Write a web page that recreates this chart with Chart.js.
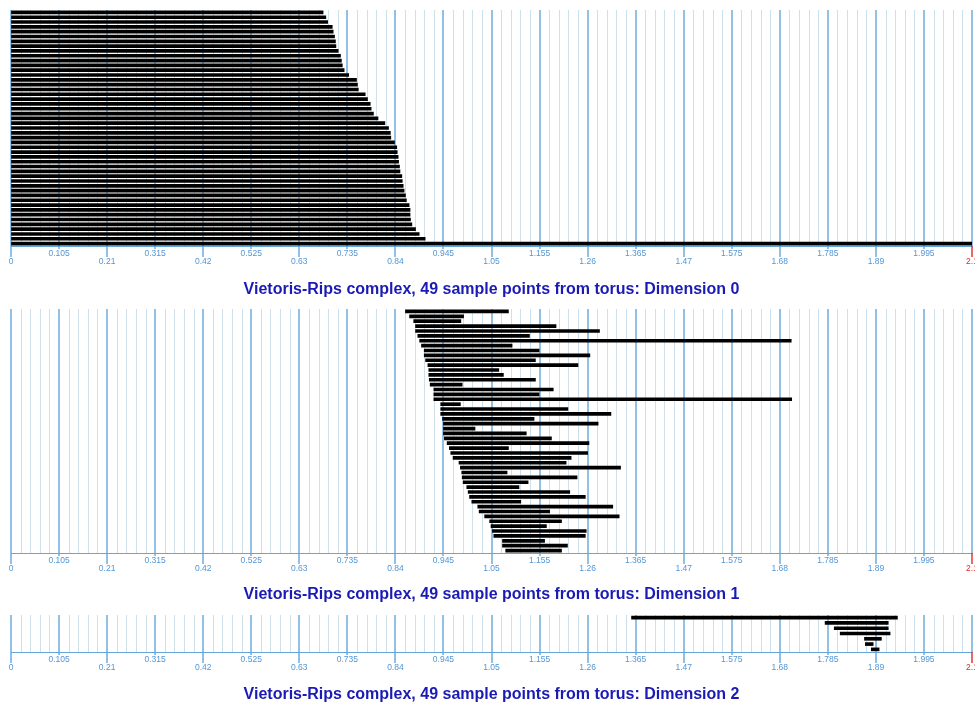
<!DOCTYPE html>
<html>
<head>
<meta charset="utf-8">
<title>Vietoris-Rips barcodes</title>
<script src="https://cdn.jsdelivr.net/npm/chart.js@4.4.1/dist/chart.umd.min.js"></script>
<style>
  html, body { margin: 0; padding: 0; background: #ffffff; }
  .panel { position: absolute; left: 0; width: 975px; }
  canvas { display: block; }
</style>
</head>
<body>
<div class="panel" style="top:0;height:305px"><canvas id="dim0"></canvas></div>
<div class="panel" style="top:305px;height:307px"><canvas id="dim1"></canvas></div>
<div class="panel" style="top:612px;height:92px"><canvas id="dim2"></canvas></div>
<script>
// axis labels (every 0.105), grid every 0.021
const tickLabels = ['0', '0.105', '0.21', '0.315', '0.42', '0.525', '0.63', '0.735', '0.84', '0.945',
  '1.05', '1.155', '1.26', '1.365', '1.47', '1.575', '1.68', '1.785', '1.89', '1.995', '2.1'];
const axisMax = 2.1;
const minorPerMajor = 5;

// Dimension 0 : birth / death (last bar is the infinite one, drawn to the axis end)
const dim0Birth = [0, 0, 0, 0, 0, 0, 0, 0, 0, 0, 0, 0, 0, 0, 0, 0, 0, 0, 0, 0, 0, 0, 0, 0, 0,
  0, 0, 0, 0, 0, 0, 0, 0, 0, 0, 0, 0, 0, 0, 0, 0, 0, 0, 0, 0, 0, 0, 0, 0];
const dim0Death = [0.682, 0.688, 0.692, 0.702, 0.704, 0.707, 0.709, 0.710, 0.715, 0.720,
  0.722, 0.724, 0.728, 0.738, 0.755, 0.757, 0.759, 0.774, 0.779, 0.785,
  0.787, 0.792, 0.802, 0.817, 0.825, 0.829, 0.830, 0.838, 0.843, 0.844,
  0.846, 0.847, 0.849, 0.850, 0.854, 0.855, 0.857, 0.859, 0.862, 0.864,
  0.870, 0.872, 0.872, 0.873, 0.876, 0.884, 0.892, 0.905, 2.1];

// Dimension 1
const dim1Birth = [0.862, 0.871, 0.880, 0.884, 0.884, 0.889, 0.893, 0.897, 0.903, 0.903,
  0.906, 0.911, 0.913, 0.913, 0.914, 0.916, 0.924, 0.924, 0.924, 0.939,
  0.939, 0.939, 0.943, 0.945, 0.945, 0.945, 0.947, 0.953, 0.958, 0.961,
  0.966, 0.979, 0.982, 0.985, 0.986, 0.988, 0.996, 0.999, 1.002, 1.007,
  1.020, 1.023, 1.035, 1.046, 1.049, 1.052, 1.055, 1.074, 1.074, 1.081];
const dim1Death = [1.087, 0.989, 0.983, 1.191, 1.286, 1.133, 1.705, 1.095, 1.154, 1.265,
  1.146, 1.239, 1.066, 1.076, 1.146, 0.986, 1.185, 1.154, 1.706, 0.982,
  1.217, 1.311, 1.143, 1.283, 1.014, 1.126, 1.181, 1.263, 1.087, 1.260,
  1.224, 1.213, 1.332, 1.084, 1.237, 1.130, 1.110, 1.221, 1.255, 1.114,
  1.315, 1.177, 1.329, 1.203, 1.170, 1.257, 1.255, 1.166, 1.216, 1.203];

// Dimension 2
const dim2Birth = [1.356, 1.779, 1.799, 1.812, 1.865, 1.867, 1.880];
const dim2Death = [1.937, 1.917, 1.917, 1.921, 1.902, 1.884, 1.897];

const majorColor = 'rgb(100, 166, 220)';
const minorColor = 'rgb(206, 225, 234)';
const labelColor = 'rgb(82, 150, 214)';
const endColor = 'rgb(224, 42, 42)';
const titleColor = 'rgb(26, 26, 180)';
const fontFamily = '"Liberation Sans", Arial, sans-serif';

const gridValues = [];
for (let i = 0; i < tickLabels.length - 1; i++) {
  const a = parseFloat(tickLabels[i]), b = parseFloat(tickLabels[i + 1]);
  for (let j = 0; j < minorPerMajor; j++) gridValues.push(+(a + (b - a) * j / minorPerMajor).toFixed(4));
}
gridValues.push(axisMax);
const lastIdx = gridValues.length - 1;
const isMajor = i => i % minorPerMajor === 0;

// vertical grid lines, drawn under the bars
const gridLines = {
  id: 'gridLines',
  beforeDatasetsDraw(chart) {
    const s = chart.scales.x;
    const area = chart.chartArea;
    const ctx = chart.ctx;
    ctx.save();
    gridValues.forEach((v, i) => {
      const major = isMajor(i);
      const px = Math.round(s.getPixelForValue(v)) + (major ? 0 : 0.5);
      ctx.lineWidth = major ? 1.4 : 1;
      ctx.strokeStyle = major ? majorColor : minorColor;
      ctx.beginPath();
      ctx.moveTo(px, area.top);
      ctx.lineTo(px, area.bottom);
      ctx.stroke();
    });
    ctx.restore();
  }
};

// tick marks under the axis: short for the upper label row, long for the lower one
const axisTicks = {
  id: 'axisTicks',
  afterDraw(chart) {
    const s = chart.scales.x;
    const ctx = chart.ctx;
    ctx.save();
    ctx.lineWidth = 1.4;
    tickLabels.forEach((lab, k) => {
      const px = Math.round(s.getPixelForValue(parseFloat(lab)));
      ctx.strokeStyle = k === tickLabels.length - 1 ? endColor : majorColor;
      ctx.beginPath();
      ctx.moveTo(px, s.top);
      ctx.lineTo(px, s.top + (k % 2 ? 3 : 11));
      ctx.stroke();
    });
    ctx.restore();
  }
};

function makeBarcode(id, births, deaths, title, height, pad) {
  const canvas = document.getElementById(id);
  canvas.width = 975;
  canvas.height = height;
  return new Chart(canvas.getContext('2d'), {
    type: 'bar',
    data: {
      labels: births.map((b, i) => String(i + 1)),
      datasets: [{
        data: births.map((b, i) => [b, deaths[i]]),
        backgroundColor: '#000000',
        borderWidth: 0,
        barThickness: 3
      }]
    },
    options: {
      indexAxis: 'y',
      responsive: false,
      animation: false,
      events: [],
      layout: { padding: { top: pad.top, left: 11, right: 3, bottom: 0 } },
      plugins: {
        legend: { display: false },
        tooltip: { enabled: false },
        title: {
          display: true,
          position: 'bottom',
          text: title,
          color: titleColor,
          font: { family: fontFamily, size: 16, weight: 'bold', lineHeight: '19px' },
          padding: { top: pad.titleTop, bottom: pad.titleBottom }
        }
      },
      scales: {
        y: { type: 'category', display: false },
        x: {
          type: 'linear',
          min: 0,
          max: axisMax,
          afterBuildTicks: s => { s.ticks = gridValues.map(v => ({ value: v })); },
          afterFit: s => { s.height = 20; s.paddingLeft = 0; s.paddingRight = 0; },
          grid: { drawOnChartArea: false, drawTicks: true, tickLength: 3, tickColor: 'rgba(0,0,0,0)' },
          border: { color: majorColor, width: 1 },
          ticks: {
            autoSkip: false,
            maxRotation: 0,
            minRotation: 0,
            padding: 1,
            color: c => c.index === lastIdx ? endColor : labelColor,
            font: { family: fontFamily, size: 8.5, lineHeight: '8px' },
            callback: (v, i) => {
              if (!isMajor(i)) return '';
              const k = i / minorPerMajor;
              return k % 2 ? [tickLabels[k]] : ['', tickLabels[k]];
            }
          }
        }
      }
    },
    plugins: [gridLines, axisTicks]
  });
}

makeBarcode('dim0', dim0Birth, dim0Death,
  'Vietoris-Rips complex, 49 sample points from torus: Dimension 0', 305,
  { top: 10, titleTop: 14, titleBottom: 6 });
makeBarcode('dim1', dim1Birth, dim1Death,
  'Vietoris-Rips complex, 49 sample points from torus: Dimension 1', 307,
  { top: 4, titleTop: 12, titleBottom: 8 });
makeBarcode('dim2', dim2Birth, dim2Death,
  'Vietoris-Rips complex, 49 sample points from torus: Dimension 2', 92,
  { top: 3, titleTop: 13, titleBottom: 0 });
</script>
</body>
</html>
